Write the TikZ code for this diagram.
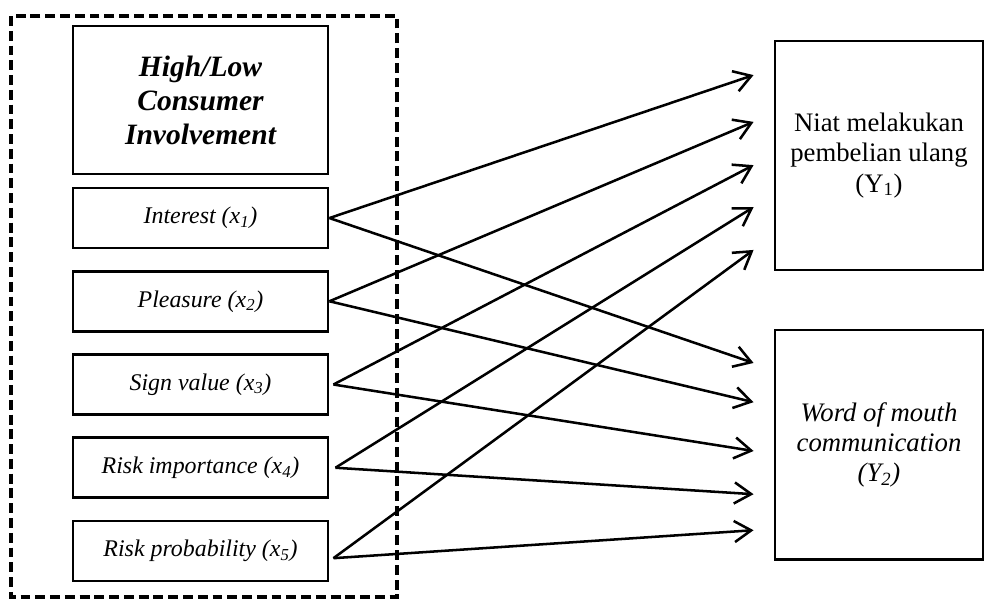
\documentclass[tikz,border=0pt]{standalone}
\usepackage{fontspec}
\setmainfont{Liberation Serif}
\usetikzlibrary{arrows.meta, positioning}

\begin{document}
\begin{tikzpicture}[x=0.025cm, y=-0.025cm,
    box/.style={draw, line width=2pt, minimum width=6.375cm, minimum height=1.5cm,
        inner sep=0pt, font=\fontsize{17}{20}\selectfont\itshape},
    headbox/.style={box, minimum height=3.7cm, align=center,
        font=\fontsize{21}{24.2}\selectfont\bfseries\itshape},
    outbox/.style={draw, line width=2pt, minimum width=5.2cm, minimum height=5.725cm,
        inner sep=0pt, align=center, font=\fontsize{19}{21.4}\selectfont},
    groupbox/.style={line width=2.6pt, dash pattern=on 7pt off 3.5pt},
    arr/.style={line width=1.8pt, -{Straight Barb[length=12pt, width=15pt]}}]
    \useasboundingbox (0,0) rectangle (984,599);

    % Nodes
    \node[headbox] (head) at (200.5,100) {High/Low\\Consumer\\Involvement};
    \node[box] (x1) [below=0.28cm of head] {Interest (x\textsubscript{1})};
    \node[box] (x2) [below=0.51cm of x1] {Pleasure (x\textsubscript{2})};
    \node[box] (x3) [below=0.51cm of x2] {Sign value (x\textsubscript{3})};
    \node[box] (x4) [below=0.51cm of x3] {Risk importance (x\textsubscript{4})};
    \node[box] (x5) [below=0.51cm of x4] {Risk probability (x\textsubscript{5})};
    \draw[groupbox] (11,16) rectangle (397,597);

    \node[outbox] (y1) at (879,155.5) {Niat melakukan\\pembelian ulang\\(Y\textsubscript{1})};
    \node[outbox, font=\fontsize{19}{21.4}\selectfont\itshape] (y2) [below=1.43cm of y1]
        {Word of mouth\\communication\\(Y\textsubscript{2})};

    % Arrows
    \draw[arr] (x1.east) -- ([xshift=-0.5cm, yshift=2.01cm]y1.west);
    \draw[arr] (x1.east) -- ([xshift=-0.5cm, yshift=2.04cm]y2.west);
    \draw[arr] (x2.east) -- ([xshift=-0.5cm, yshift=0.84cm]y1.west);
    \draw[arr] (x2.east) -- ([xshift=-0.5cm, yshift=1.06cm]y2.west);
    \draw[arr] ([xshift=0.1cm]x3.east) -- ([xshift=-0.5cm, yshift=-0.24cm]y1.west);
    \draw[arr] ([xshift=0.1cm]x3.east) -- ([xshift=-0.5cm, yshift=-0.16cm]y2.west);
    \draw[arr] ([xshift=0.15cm]x4.east) -- ([xshift=-0.5cm, yshift=-1.29cm]y1.west);
    \draw[arr] ([xshift=0.15cm]x4.east) -- ([xshift=-0.5cm, yshift=-1.24cm]y2.west);
    \draw[arr] ([xshift=0.1cm, yshift=-0.18cm]x5.east) -- ([xshift=-0.5cm, yshift=-2.36cm]y1.west);
    \draw[arr] ([xshift=0.1cm, yshift=-0.18cm]x5.east) -- ([xshift=-0.5cm, yshift=-2.14cm]y2.west);
\end{tikzpicture}
\end{document}
